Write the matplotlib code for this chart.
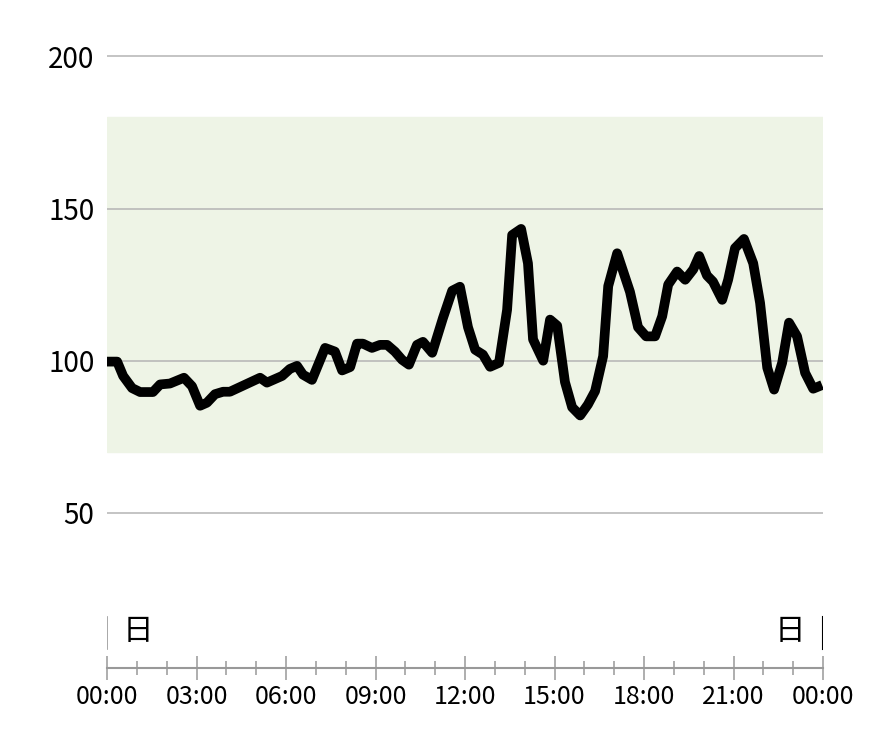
import matplotlib
matplotlib.use("Agg")
import matplotlib.pyplot as plt

plt.rcParams['font.family'] = ['Noto Sans CJK JP', 'DejaVu Sans']

# glucose readings (hours since midnight, mg/dL)
hours = [0.0, 0.34, 0.54, 0.84, 1.11, 1.54, 1.78, 2.11, 2.58, 2.85, 3.12, 3.35,
         3.62, 3.89, 4.12, 5.13, 5.36, 5.87, 6.13, 6.37, 6.57, 6.87, 7.31, 7.64,
         7.88, 8.15, 8.38, 8.58, 8.88, 9.15, 9.39, 9.65, 9.89, 10.12, 10.39, 10.59,
         10.9, 11.26, 11.57, 11.83, 12.1, 12.34, 12.6, 12.84, 13.14, 13.41, 13.58,
         13.88, 14.11, 14.28, 14.62, 14.85, 15.09, 15.35, 15.59, 15.86, 16.12, 16.36,
         16.63, 16.8, 17.1, 17.53, 17.8, 18.07, 18.37, 18.61, 18.81, 19.11, 19.38,
         19.65, 19.85, 20.11, 20.31, 20.62, 20.82, 21.05, 21.35, 21.66, 21.89, 22.13,
         22.36, 22.63, 22.86, 23.13, 23.4, 23.67, 23.97]
glucose = [99.7, 99.7, 95, 91, 89.7, 89.7, 92.2, 92.5, 94.4, 91.6, 85.2, 86.2,
           89, 89.8, 89.8, 94.4, 92.8, 95, 97.3, 98.3, 95.4, 93.7, 104.2, 103,
           96.8, 97.9, 105.6, 105.6, 104.2, 105.2, 105.2, 103, 100.3, 98.7, 105.2, 106.2,
           102.6, 114, 123, 124.3, 111, 103.6, 102, 98, 99.3, 116.7, 141.3,
           143.3, 132, 107, 100, 113.5, 111.5, 93, 84.7, 82, 85.6, 90,
           101.5, 124.5, 135.3, 122.6, 111, 108, 108, 114.6, 125, 129.3, 126.6,
           130, 134.4, 128, 126, 120, 126.6, 137, 140, 132, 119, 97.7,
           90.5, 99.3, 112.5, 108, 96, 90.8, 92]

target_low, target_high = 70, 180
y_ticks = [50, 100, 150, 200]
x_ticks = list(range(0, 25, 3))
x_labels = ['00:00', '03:00', '06:00', '09:00', '12:00', '15:00', '18:00', '21:00', '00:00']
day_label = '日'

fig = plt.figure(figsize=(8.7, 7.48), dpi=100)

ax = fig.add_axes([0.123, 0.294, 0.823, 0.651])
ax.axhspan(target_low, target_high, color='#eef4e6', zorder=0)
for v in y_ticks:
    ax.axhline(v, color='#b4b4b4', lw=1.1, zorder=1)
ax.plot(hours, glucose, color='black', lw=7, solid_joinstyle='round', solid_capstyle='butt', zorder=3)
ax.set_xlim(0, 24)
ax.set_ylim(45, 205)
ax.set_yticks(y_ticks)
ax.set_yticklabels([str(v) for v in y_ticks], fontsize=20)
ax.tick_params(axis='y', length=0, pad=9)
ax.set_xticks([])
for s in ax.spines.values():
    s.set_visible(False)

# time axis
ax2 = fig.add_axes([0.123, 0.107, 0.823, 0.072])
ax2.set_xlim(0, 24)
ax2.set_ylim(0, 1)
ax2.set_xticks(x_ticks)
ax2.set_xticklabels(x_labels, fontsize=18)
ax2.set_xticks(range(25), minor=True)
ax2.tick_params(axis='x', which='major', direction='inout', length=17, color='#999999', width=1.1, pad=3)
ax2.tick_params(axis='x', which='minor', direction='inout', length=10, color='#999999', width=1.1)
ax2.set_yticks([])
for k in ['top', 'left', 'right']:
    ax2.spines[k].set_visible(False)
ax2.spines['bottom'].set_color('#999999')
ax2.spines['bottom'].set_linewidth(1.5)
ax2.patch.set_alpha(0)

ax2.axvline(0, ymin=0.35, ymax=0.95, color='#999999', lw=1.2)
ax2.axvline(24, ymin=0.35, ymax=0.95, color='black', lw=1.5)
ax2.text(1.05, 0.67, day_label, fontsize=22, ha='center', va='center')
ax2.text(22.9, 0.67, day_label, fontsize=22, ha='center', va='center')

fig.savefig('out.png', dpi=100, facecolor='white')
